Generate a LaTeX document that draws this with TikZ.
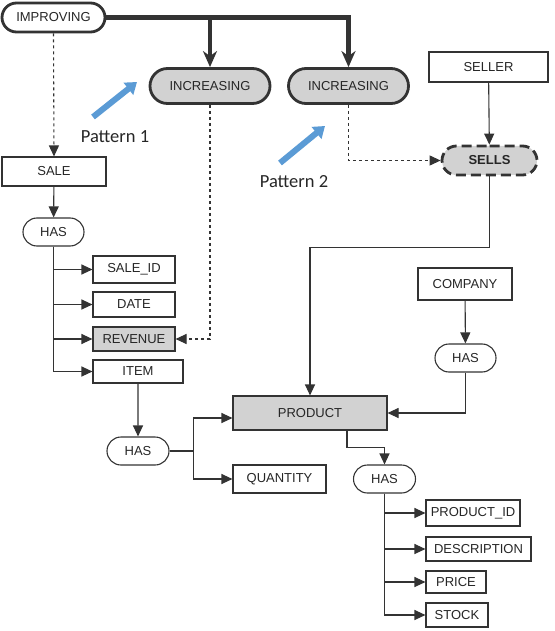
\documentclass[tikz,border=0pt]{standalone}
\usepackage{fontspec}
\setmainfont{Liberation Sans}
\newfontfamily\patternfont{Carlito}
\usepackage{tikz}
\usetikzlibrary{shapes.misc, arrows.meta, positioning}
\definecolor{linegray}{HTML}{333333}
\definecolor{txtgray}{HTML}{262626}
\definecolor{boxgray}{HTML}{D2D2D2}
\definecolor{patblue}{RGB}{91,155,213}

\begin{document}
\begin{tikzpicture}[
    x=1pt, y=-1pt,
    entity/.style={rectangle, draw=linegray, fill=#1, line width=1.1pt, inner sep=0pt, minimum height=27pt, font=\fontsize{13}{15}\selectfont, text=txtgray},
    entity/.default=white,
    rel/.style={rounded rectangle, draw=linegray, fill=white, line width=1.1pt, inner sep=0pt, minimum height=28pt, minimum width=61pt, font=\fontsize{13}{15}\selectfont, text=txtgray},
    keyrel/.style={rel, fill=#1, line width=2.8pt, minimum height=35pt},
    keyrel/.default=boxgray,
    arrow/.style={-{Triangle[length=11pt, width=10pt]}, line width=1.1pt, draw=linegray},
    dasharrow/.style={arrow, dashed},
    bigarrow/.style={-{Stealth[length=16pt, width=14pt, inset=5pt]}, line width=4.5pt, draw=linegray},
    patarrow/.style={-{Triangle[length=11pt, width=15pt]}, line width=6pt, draw=patblue},
    patlabel/.style={font=\patternfont\fontsize{18.5}{20}\selectfont, text=txtgray}
]
    \useasboundingbox (0,0) rectangle (554,631);

    % Improving pattern
    \node[keyrel=white, minimum width=103pt, minimum height=29pt] (improving) at (53.5,17.5) {IMPROVING};
    \node[keyrel, minimum width=120pt] (inc1) at (210,86) {INCREASING};
    \node[keyrel, minimum width=120pt] (inc2) at (348.5,86) {INCREASING};
    \coordinate (p1tail) at (93,117);
    \coordinate (p1tip) at (137,82);
    \coordinate (p2tail) at (280,163);
    \coordinate (p2tip) at (325,126);
    \node[patlabel] (pat1) at (115,137) {Pattern 1};
    \node[patlabel] (pat2) at (294,182) {Pattern 2};

    % Sale
    \node[entity, minimum width=104pt, minimum height=29pt] (sale) at (54,171.5) {SALE};
    \node[rel] (has1) at (53.5,232) {HAS};
    \node[entity, minimum width=82pt] (saleid) at (134,269.5) {SALE\_ID};
    \node[entity, minimum width=82pt, minimum height=25pt] (date) at (134,304.5) {DATE};
    \node[entity=boxgray, minimum width=82pt, minimum height=24pt] (revenue) at (134,339) {REVENUE};
    \node[entity, minimum width=90pt, minimum height=23pt] (item) at (138,371.5) {ITEM};
    \node[rel, minimum width=62pt] (has2) at (138,451) {HAS};
    \node[entity, minimum width=93pt, minimum height=28pt] (quantity) at (279.5,479) {QUANTITY};

    % Seller
    \node[entity, minimum width=119pt, minimum height=30pt] (seller) at (488.5,67) {SELLER};
    \node[keyrel, dash pattern=on 10pt off 5pt, minimum width=95pt, minimum height=29pt] (sells) at (489.5,160.5) {\textbf{SELLS}};

    % Product
    \node[entity=boxgray, minimum width=154pt, minimum height=34pt] (product) at (310,413) {PRODUCT};
    \node[entity, minimum width=94pt, minimum height=32pt] (company) at (465,284) {COMPANY};
    \node[rel] (has3) at (465.5,358) {HAS};
    \node[rel, minimum width=62pt] (has4) at (384.5,479) {HAS};
    \node[entity, minimum width=94pt, minimum height=26pt] (pid) at (473,513) {PRODUCT\_ID};
    \node[entity, minimum width=105pt, minimum height=24pt] (desc) at (478.5,549) {DESCRIPTION};
    \node[entity, minimum width=60pt, minimum height=22pt] (price) at (456,582) {PRICE};
    \node[entity, minimum width=62pt, minimum height=24pt] (stock) at (457,615) {STOCK};

    % Arrows
    \draw[bigarrow] (improving.east) -| (inc2.north);
    \draw[bigarrow] (improving.east -| inc1.north) -- (inc1.north);
    \draw[patarrow] (p1tail) -- (p1tip);
    \draw[patarrow] (p2tail) -- (p2tip);
    \draw[dasharrow] (improving.south) -- (sale.north);
    \draw[dasharrow] (inc1.south) |- (revenue.east);
    \draw[dasharrow] (inc2.south) |- (sells.west);
    \draw[arrow] (sale) -- (has1);
    \draw[arrow] (has1.south) |- (saleid.west);
    \draw[arrow] (has1.south) |- (date.west);
    \draw[arrow] (has1.south) |- (revenue.west);
    \draw[arrow] (has1.south) |- (item.west);
    \draw[arrow] (item) -- (has2);
    \draw[arrow] (has2.east) -- ++(24,0) |- ([yshift=-5pt]product.west);
    \draw[arrow] (has2.east) -- ++(24,0) |- (quantity.west);
    \draw[arrow] (seller) -- (sells);
    \draw[arrow] (sells.south) -- ++(0,71) -| (product.north);
    \draw[arrow] (company) -- (has3);
    \draw[arrow] (has3.south) |- (product.east);
    \draw[arrow] ([xshift=37pt]product.south) -- ++(0,17) -| (has4.north);
    \draw[arrow] (has4.south) |- (pid.west);
    \draw[arrow] (has4.south) |- (desc.west);
    \draw[arrow] (has4.south) |- (price.west);
    \draw[arrow] (has4.south) |- (stock.west);
\end{tikzpicture}
\end{document}
